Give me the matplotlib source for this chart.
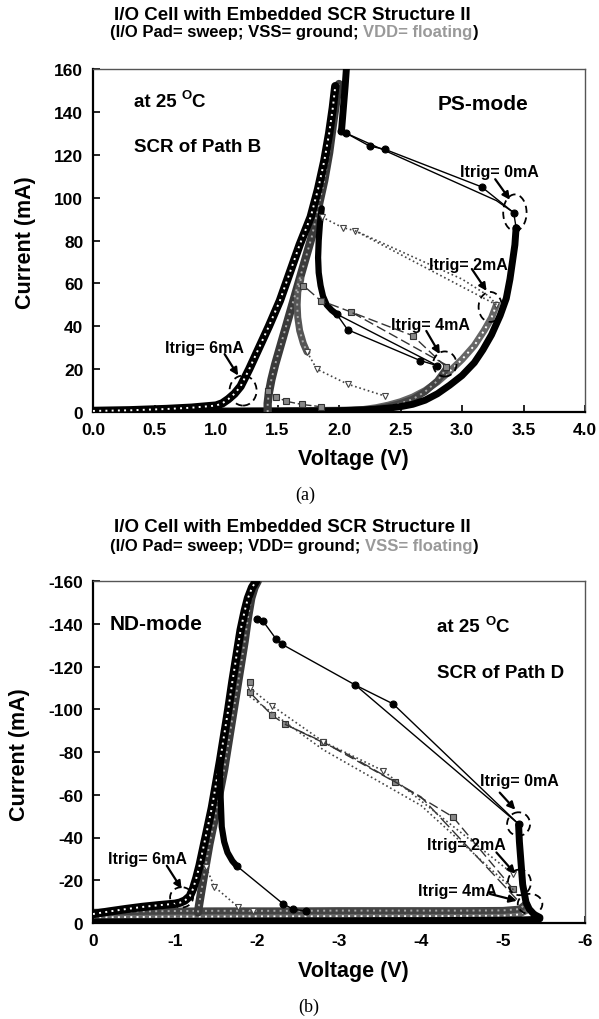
import matplotlib
matplotlib.use('Agg')
import matplotlib.pyplot as plt
from matplotlib.patches import Ellipse

# ================= DATA : (a) PS-mode =================
ps_xticks = [0.0, 0.5, 1.0, 1.5, 2.0, 2.5, 3.0, 3.5, 4.0]
ps_xlabels = ['0.0', '0.5', '1.0', '1.5', '2.0', '2.5', '3.0', '3.5', '4.0']
ps_yticks = [0, 20, 40, 60, 80, 100, 120, 140, 160]
ps_ylabels = ['0', '20', '40', '60', '80', '100', '120', '140', '160']

# Itrig = 0 mA (filled circles)
ps0_off_v = [0.0, 0.1, 0.2, 0.3, 0.4, 0.5, 0.6, 0.7, 0.8, 0.9, 1.0, 1.1, 1.2, 1.3, 1.4, 1.5,
             1.6, 1.7, 1.8, 1.9, 2.0, 2.1, 2.2, 2.3, 2.4, 2.5, 2.6, 2.7, 2.8, 2.9, 3.0, 3.1,
             3.17, 3.24, 3.31, 3.36, 3.39, 3.41, 3.43, 3.44]
ps0_off_i = [0.0, 0.0, 0.0, 0.0, 0.0, 0.0, 0.1, 0.1, 0.1, 0.1, 0.2, 0.2, 0.2, 0.3, 0.3, 0.3,
             0.4, 0.4, 0.5, 0.5, 0.6, 0.8, 1.0, 1.3, 1.8, 2.5, 3.6, 5.5, 8.5, 12.5, 17, 23,
             29, 36, 45, 53, 62, 70, 78, 86]
ps0_snap_v = [3.44, 3.42, 3.16, 2.37, 2.25, 2.06, 2.02]
ps0_snap_i = [86, 93, 105, 122.6, 124, 130, 131]
ps0_snap2_v = [2.06, 3.28, 3.42]
ps0_snap2_i = [130, 98.6, 93]
ps0_on_v = [2.02, 2.03, 2.04, 2.05, 2.06]
ps0_on_i = [131, 138, 145, 152, 160]

# black U-shaped branch and its filled-circle tail
ps_u_v = [1.86, 1.845, 1.835, 1.83, 1.835, 1.85, 1.87, 1.9, 1.94, 1.98]
ps_u_i = [95, 88, 80, 72, 65, 59, 54, 50, 47.5, 45.7]
ps_u_tail_v = [1.98, 2.07, 2.66, 2.8]
ps_u_tail_i = [45.7, 38.4, 24, 21.6]
ps_u_tail2_v = [1.98, 2.8]
ps_u_tail2_i = [45.7, 21.6]

# Itrig = 6 mA (open circles)
ps6_v = [0.0, 0.1, 0.2, 0.3, 0.4, 0.5, 0.6, 0.7, 0.8, 0.9, 1.0, 1.05, 1.1, 1.15, 1.2, 1.27,
         1.35, 1.43, 1.52, 1.6, 1.68, 1.77, 1.83, 1.88, 1.92, 1.95, 1.97]
ps6_i = [0.5, 0.6, 0.7, 0.8, 1.0, 1.2, 1.4, 1.7, 2.0, 2.5, 3.0, 4.0, 6.0, 8.5, 12, 20,
         30, 40, 52, 65, 78, 91, 104, 117, 130, 142, 152]

# Itrig = 4 mA (gray squares)
ps_sq_on_v = [1.42, 1.42, 1.43, 1.45, 1.48, 1.52, 1.57, 1.62, 1.67, 1.72, 1.78, 1.83, 1.88,
              1.92, 1.95, 1.98, 2.0]
ps_sq_on_i = [0, 4, 9, 15, 22, 30, 40, 50, 60, 70, 82, 95, 108, 121, 134, 146, 153]
ps_sq_off_v = [0.0, 0.5, 1.0, 1.5, 2.0, 2.2, 2.3, 2.4, 2.5, 2.6, 2.7, 2.8, 2.87]
ps_sq_off_i = [0.3, 0.4, 0.5, 0.6, 0.8, 1.0, 1.5, 2.5, 4, 6, 9.5, 14.5, 20]
ps_sq_u_v = [1.69, 1.665, 1.66, 1.665, 1.68, 1.71, 1.74]
ps_sq_u_i = [62, 56, 50, 44, 38, 32, 28]
ps_sq_snap_v = [2.87, 2.6, 2.1, 1.85, 1.71]
ps_sq_snap_i = [21, 35.6, 46.6, 52, 59]
ps_sq_snap2_v = [2.87, 2.1]
ps_sq_snap2_i = [22, 46.6]
ps_sq_low_v = [1.42, 1.49, 1.57, 1.7, 1.85]
ps_sq_low_i = [10, 7, 5, 3.5, 2.5]

# Itrig = 2 mA (open triangles)
ps_tri_off_v = [0.0, 0.5, 1.0, 1.5, 2.0, 2.1, 2.2, 2.3, 2.4, 2.5, 2.6, 2.7, 2.8, 2.9, 3.0,
                3.1, 3.18, 3.24, 3.28]
ps_tri_off_i = [0.2, 0.3, 0.3, 0.4, 0.5, 0.7, 1.2, 2.0, 3.2, 4.8, 7.0, 10, 14, 19, 24.5,
                31, 38, 44, 50]
ps_tri_snap_v = [3.28, 2.13, 2.03, 1.86]
ps_tri_snap_i = [50, 84.6, 86, 91]
ps_tri_snap2_v = [2.13, 3.0, 3.22, 3.28]
ps_tri_snap2_i = [84.6, 62, 54, 50]
ps_tri_low_v = [1.74, 1.82, 2.07, 2.37]
ps_tri_low_i = [28, 20, 13, 7.5]

# ================= DATA : (b) ND-mode =================
nd_xticks = [0, -1, -2, -3, -4, -5, -6]
nd_xlabels = ['0', '-1', '-2', '-3', '-4', '-5', '-6']
nd_yticks = [0, -20, -40, -60, -80, -100, -120, -140, -160]
nd_ylabels = ['0', '-20', '-40', '-60', '-80', '-100', '-120', '-140', '-160']

nd6_v = [0.0, -0.2, -0.4, -0.6, -0.8, -1.0, -1.06, -1.12, -1.18, -1.22, -1.26, -1.3, -1.35,
         -1.4, -1.45, -1.5, -1.55, -1.6, -1.65, -1.7, -1.75, -1.8, -1.85, -1.89, -1.94, -1.99]
nd6_i = [-4.2, -5.4, -6.5, -7.5, -8.3, -9.0, -9.5, -10.5, -12.5, -16, -21, -27, -36,
         -45, -54, -65, -76, -88, -100, -113, -125, -137, -146, -152, -157, -160]
nd_on_v = [-1.28, -1.3, -1.33, -1.37, -1.42, -1.48, -1.54, -1.6, -1.65, -1.7, -1.75, -1.8,
           -1.85, -1.89, -1.93, -1.97, -2.01]
nd_on_i = [-5, -10, -17, -26, -37, -48, -60, -72, -84, -96, -108, -120, -132, -143, -152,
           -157, -160]
nd_u_v = [-1.55, -1.55, -1.56, -1.57, -1.6, -1.64, -1.7, -1.75]
nd_u_i = [-75, -65, -55, -45, -38, -33, -29, -26.8]
nd_u_tail_v = [-1.75, -2.32, -2.44, -2.6]
nd_u_tail_i = [-26.8, -8.9, -6.5, -5.5]

nd0_off_v = [0.0, -0.5, -1.0, -1.5, -2.0, -2.5, -3.0, -3.5, -4.0, -4.5, -5.0, -5.2, -5.35,
             -5.45, -5.45, -5.38, -5.32, -5.28, -5.24, -5.22, -5.2, -5.19]
nd0_off_i = [-0.5, -0.6, -0.7, -0.8, -0.9, -1.0, -1.0, -1.1, -1.1, -1.2, -1.3, -1.4, -1.6,
             -2.0, -2.6, -4.0, -6.5, -9.8, -18, -28, -38, -46]
nd0_snap_v = [-5.19, -3.66, -3.2, -2.3, -2.23, -2.07, -2.0]
nd0_snap_i = [-46.3, -102.5, -111.3, -130.5, -133, -141.4, -142]
nd0_snap2_v = [-5.19, -3.2]
nd0_snap2_i = [-46.3, -111.3]

nd_sq_v = [-1.91, -1.91, -2.18, -2.34, -2.81, -3.68, -4.39, -5.12]
nd_sq_i = [-112.6, -108, -97.3, -93, -84.6, -66, -49.6, -16]
nd_sq2_v = [-2.34, -3.1, -4.0, -5.17]
nd_sq2_i = [-93, -79, -59, -11]
nd_tri_v = [-1.91, -2.18, -2.81, -3.54, -5.12]
nd_tri_i = [-110, -101.7, -84.8, -71.2, -23]
nd_tri2_v = [-1.91, -2.81, -4.0, -5.2]
nd_tri2_i = [-106, -81, -55, -13]
nd_tri_low_v = [-1.38, -1.48, -1.77, -1.95]
nd_tri_low_i = [-26, -17, -7.5, -5.5]

nd_sq_off_v = [0.0, -0.5, -1.0, -1.5, -2.0, -2.5, -3.0, -3.5, -4.0, -4.5, -5.0, -5.2, -5.28]
nd_sq_off_i = [-5.0, -5.4, -5.6, -5.7, -5.7, -5.7, -5.8, -5.8, -5.8, -5.8, -5.9, -6.5, -9.0]
nd_tri_off_v = [0.0, -0.5, -1.0, -1.5, -2.0, -2.5, -3.0, -3.5, -4.0, -4.5, -5.0, -5.2, -5.3]
nd_tri_off_i = [-2.6, -2.8, -3.0, -3.0, -3.1, -3.1, -3.2, -3.2, -3.2, -3.3, -3.4, -4.0, -6.0]

# ================= STYLE =================
plt.rcParams['font.family'] = ['Liberation Sans', 'DejaVu Sans']
plt.rcParams['font.weight'] = 'bold'
plt.rcParams['axes.unicode_minus'] = False

W, H = 599, 1020
fig = plt.figure(figsize=(W / 100, H / 100), dpi=100)
axA = fig.add_axes([93 / W, 1 - 413 / H, 492 / W, 343 / H])
axB = fig.add_axes([93 / W, 1 - 924 / H, 492 / W, 342 / H])


def style_axes(ax, xt, xl, yt, yl, xlim, ylim):
    ax.set_xlim(*xlim)
    ax.set_ylim(*ylim)
    ax.set_xticks(xt, xl)
    ax.set_yticks(yt, yl)
    ax.tick_params(direction='in', length=5, width=1.2, labelsize=12.5, pad=7)
    for s in ['left', 'bottom']:
        ax.spines[s].set_linewidth(1.6)
        ax.spines[s].set_color('k')
    for s in ['top', 'right']:
        ax.spines[s].set_linewidth(1.0)
        ax.spines[s].set_color('#555555')


def band(ax, v, i, dark, light=None, lw=6, z=3):
    ax.plot(v, i, color=dark, lw=lw, solid_capstyle='round', solid_joinstyle='round', zorder=z)
    if light is not None:
        ax.plot(v, i, color=light, lw=1.4, ls=(0, (1, 2.2)), zorder=z + 0.1)


def mline(ax, v, i, marker=None, mfc='k', mec='k', ms=5, ls='-', lw=1.0, color='k', z=6):
    ax.plot(v, i, ls=ls, lw=lw, color=color, marker=marker, ms=ms, mfc=mfc, mec=mec,
            mew=0.8, zorder=z)


def itrig(ax, label, txy, tail, head, center, w, h):
    ax.text(txy[0], txy[1], label, ha='center', va='center', fontsize=11.5, zorder=10)
    ax.annotate('', xy=head, xytext=tail,
                arrowprops=dict(arrowstyle='-|>', color='k', lw=1.6, mutation_scale=11,
                                shrinkA=0, shrinkB=0), zorder=10)
    ax.add_patch(Ellipse(center, w, h, fill=False, ls=(0, (4, 2.5)), lw=1.3, ec='k', zorder=11))


def temp_text(ax, x, y, fs=13.5):
    t1 = ax.text(x, y, 'at 25 ', fontsize=fs, ha='left', va='center')
    t2 = ax.annotate('O', xy=(1, 0.5), xycoords=t1, fontsize=fs * 0.7, ha='left', va='bottom')
    ax.annotate('C', xy=(1, 0), xycoords=(t2, t1), fontsize=fs, ha='left', va='bottom')


def colored_line(x, y, parts, fs):
    t = fig.text(x, y, parts[0][0], color=parts[0][1], fontsize=fs, ha='left', va='center')
    for s, c in parts[1:]:
        t = axA.annotate(s, xy=(1, 0), xycoords=t, color=c, fontsize=fs, ha='left',
                         va='bottom', annotation_clip=False)


# ================= (a) PS-mode =================
ax = axA
style_axes(ax, ps_xticks, ps_xlabels, ps_yticks, ps_ylabels, (0, 4), (0, 160))

band(ax, ps_tri_off_v, ps_tri_off_i, '#666666', 'white', lw=5, z=2)
band(ax, ps_sq_off_v, ps_sq_off_i, '#444444', '#aaaaaa', lw=5, z=2.2)
band(ax, ps0_off_v, ps0_off_i, 'black', None, lw=5, z=2.4)
band(ax, ps_sq_on_v, ps_sq_on_i, '#3a3a3a', '#aaaaaa', lw=6, z=3)
band(ax, ps_sq_u_v, ps_sq_u_i, '#555555', '#aaaaaa', lw=5, z=3)
band(ax, ps6_v, ps6_i, 'black', 'white', lw=6, z=3.5)
band(ax, ps_u_v, ps_u_i, 'black', None, lw=4.5, z=3.6)
band(ax, ps0_on_v, ps0_on_i, 'black', None, lw=5, z=3.6)

mline(ax, ps0_snap_v, ps0_snap_i, 'o', 'k', 'k', 5, '-', 1.0)
mline(ax, ps0_snap2_v, ps0_snap2_i, None, ls='-', lw=1.0)
mline(ax, ps_u_tail_v, ps_u_tail_i, 'o', 'k', 'k', 5, '-', 1.0)
mline(ax, ps_u_tail2_v, ps_u_tail2_i, None, ls='-', lw=1.0)
mline(ax, ps_sq_snap_v, ps_sq_snap_i, 's', '#888888', '#333333', 4.5, (0, (7, 3)), 1.0, '#333333')
mline(ax, ps_sq_snap2_v, ps_sq_snap2_i, None, ls=(0, (7, 3)), lw=1.0, color='#333333')
mline(ax, ps_sq_low_v, ps_sq_low_i, 's', '#888888', '#333333', 4.5, (0, (4, 2)), 1.0, '#333333')
mline(ax, ps_tri_snap_v, ps_tri_snap_i, 'v', 'white', '#444444', 5, ':', 1.2, '#444444')
mline(ax, ps_tri_snap2_v, ps_tri_snap2_i, None, ls=':', lw=1.2, color='#444444')
mline(ax, ps_tri_low_v, ps_tri_low_i, 'v', 'white', '#444444', 5, ':', 1.2, '#444444')

itrig(ax, 'Itrig= 0mA', (3.3, 112), (3.27, 108.6), (3.39, 99), (3.43, 93), 0.19, 17)
itrig(ax, 'Itrig= 2mA', (3.05, 69), (3.08, 66.7), (3.2, 56.5), (3.23, 49), 0.19, 14)
itrig(ax, 'Itrig= 4mA', (2.74, 41), (2.71, 37.8), (2.82, 27), (2.86, 22.4), 0.19, 11.7)
itrig(ax, 'Itrig= 6mA', (0.91, 30), (1.07, 27), (1.18, 17), (1.22, 10), 0.22, 14)

temp_text(ax, 0.33, 145)
ax.text(0.33, 124, 'SCR of Path B', fontsize=13.5, ha='left', va='center')
ax.text(2.8, 144, 'PS-mode', fontsize=15, ha='left', va='center')

# ================= (b) ND-mode =================
ax = axB
style_axes(ax, nd_xticks, nd_xlabels, nd_yticks, nd_ylabels, (0, -6), (0, -160))

band(ax, nd_tri_off_v, nd_tri_off_i, '#666666', 'white', lw=4.5, z=2)
band(ax, nd_sq_off_v, nd_sq_off_i, '#444444', '#aaaaaa', lw=5, z=2.2)
band(ax, nd0_off_v, nd0_off_i, 'black', None, lw=5, z=2.4)
band(ax, nd_on_v, nd_on_i, '#3a3a3a', '#aaaaaa', lw=6, z=3)
band(ax, nd6_v, nd6_i, 'black', 'white', lw=6, z=3.5)
band(ax, nd_u_v, nd_u_i, 'black', None, lw=4.5, z=3.6)

mline(ax, nd0_snap_v, nd0_snap_i, 'o', 'k', 'k', 5, '-', 1.0)
mline(ax, nd0_snap2_v, nd0_snap2_i, None, ls='-', lw=1.0)
mline(ax, nd_u_tail_v, nd_u_tail_i, 'o', 'k', 'k', 5, '-', 1.0)
mline(ax, nd_sq_v, nd_sq_i, 's', '#888888', '#333333', 4.5, (0, (7, 3)), 1.0, '#333333')
mline(ax, nd_sq2_v, nd_sq2_i, None, ls=(0, (9, 3)), lw=1.0, color='#333333')
mline(ax, nd_tri_v, nd_tri_i, 'v', 'white', '#444444', 5, ':', 1.2, '#444444')
mline(ax, nd_tri2_v, nd_tri2_i, None, ls=':', lw=1.2, color='#444444')
mline(ax, nd_tri_low_v, nd_tri_low_i, 'v', 'white', '#444444', 5, ':', 1.2, '#444444')

itrig(ax, 'Itrig= 0mA', (-5.2, -66.6), (-4.96, -61), (-5.15, -53), (-5.19, -46.3), 0.28, 11)
itrig(ax, 'Itrig= 2mA', (-4.55, -36.6), (-4.92, -33), (-5.15, -23), (-5.2, -19), 0.28, 12)
itrig(ax, 'Itrig= 4mA', (-4.44, -15), (-4.84, -13.6), (-5.17, -10.4), (-5.33, -8.9), 0.3, 9.5)
itrig(ax, 'Itrig= 6mA', (-0.66, -30), (-0.9, -26.8), (-1.08, -16), (-1.08, -12), 0.28, 9.5)

ax.text(-0.2, -140, 'ND-mode', fontsize=15, ha='left', va='center')
temp_text(ax, -4.2, -138.5)
ax.text(-4.2, -117, 'SCR of Path D', fontsize=13.5, ha='left', va='center')

# ================= titles & labels =================
fig.text(292 / W, 1 - 15 / H, 'I/O Cell with Embedded SCR Structure II', fontsize=13.5,
         ha='center', va='center')
colored_line(110 / W, 1 - 33 / H, [('(I/O Pad= sweep; VSS= ground; ', 'black'),
                                    ('VDD= floating', '#999999'), (')', 'black')], 12)
fig.text(292 / W, 1 - 527 / H, 'I/O Cell with Embedded SCR Structure II', fontsize=13.5,
         ha='center', va='center')
colored_line(110 / W, 1 - 547 / H, [('(I/O Pad= sweep; VDD= ground; ', 'black'),
                                     ('VSS= floating', '#999999'), (')', 'black')], 12)

fig.text(353 / W, 1 - 460 / H, 'Voltage (V)', fontsize=15.5, ha='center', va='center')
fig.text(353 / W, 1 - 972 / H, 'Voltage (V)', fontsize=15.5, ha='center', va='center')
fig.text(25 / W, 1 - 243 / H, 'Current (mA)', fontsize=15.5, ha='center', va='center',
         rotation=90)
fig.text(20 / W, 1 - 755 / H, 'Current (mA)', fontsize=15.5, ha='center', va='center',
         rotation=90)
fig.text(305 / W, 1 - 495 / H, '(a)', fontsize=13, ha='center', va='center',
         family='Liberation Serif', weight='normal')
fig.text(309 / W, 1 - 1007 / H, '(b)', fontsize=13, ha='center', va='center',
         family='Liberation Serif', weight='normal')

fig.savefig('out.png', dpi=100)
